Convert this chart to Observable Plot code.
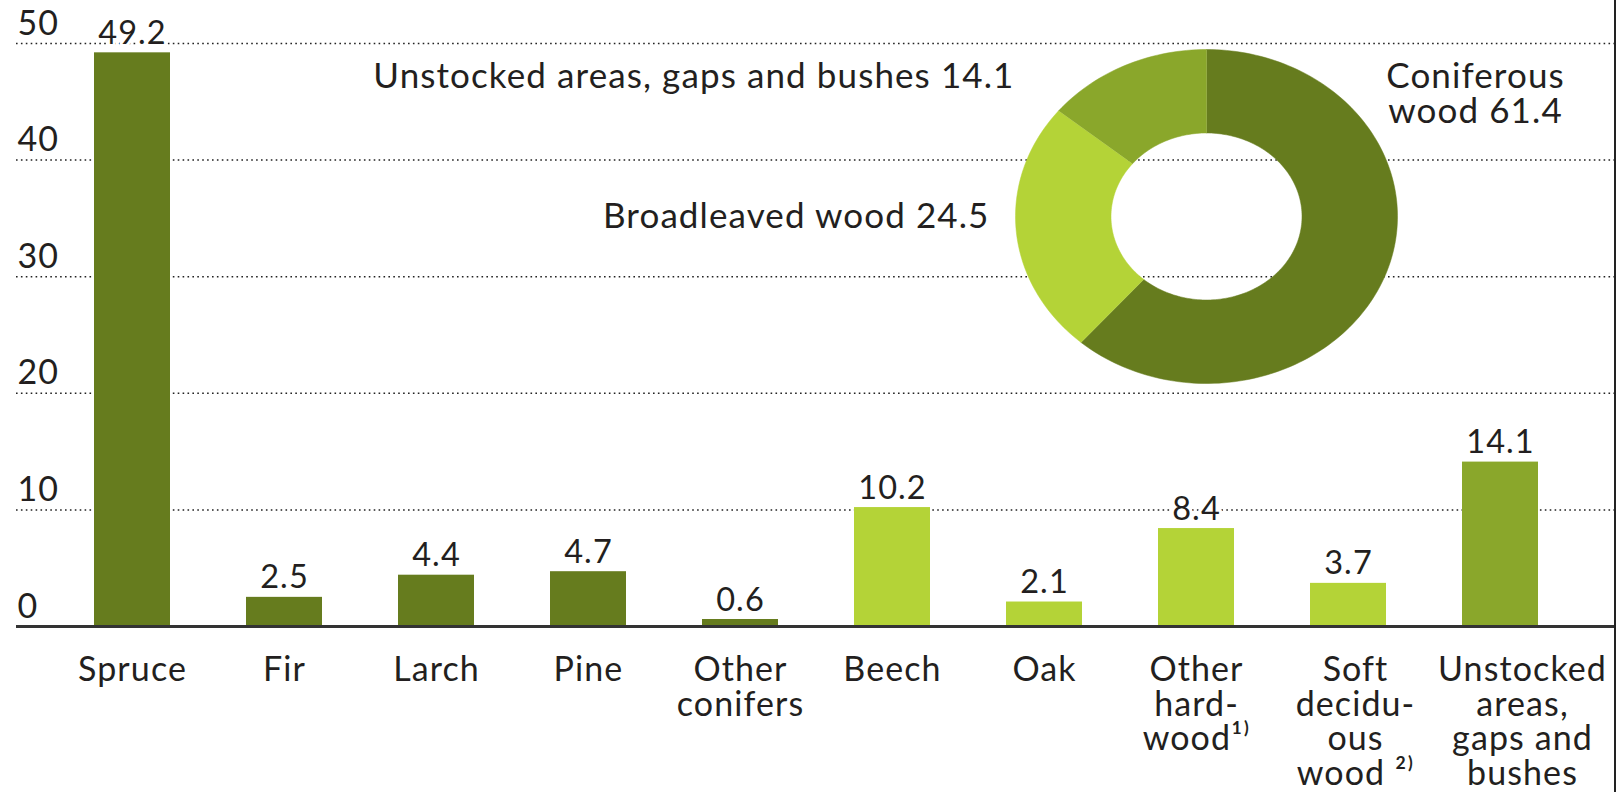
<!DOCTYPE html>
<html>
<head>
<meta charset="utf-8">
<script src="https://cdn.jsdelivr.net/npm/d3@7"></script>
<script src="https://cdn.jsdelivr.net/npm/@observablehq/plot@0.6"></script>
<style>
  html, body { margin: 0; padding: 0; background: #fff; overflow: hidden; }
  #wrap { position: relative; width: 1619px; height: 792px; font-family: Lato, "Open Sans", sans-serif; }
  #wrap svg { position: absolute; left: 0; top: 0; }
  #wrap svg text { letter-spacing: 1.1px; }
  #edge { position: absolute; left: 1614px; top: 0; width: 2px; height: 792px; background: #222; }
</style>
</head>
<body>
<div id="wrap"><div id="edge"></div></div>
<script>
// ---- data ----
const categories = ["Spruce", "Fir", "Larch", "Pine", "Other conifers", "Beech", "Oak", "Other hardwood", "Soft deciduous wood", "Unstocked areas, gaps and bushes"];
const values = [49.2, 2.5, 4.4, 4.7, 0.6, 10.2, 2.1, 8.4, 3.7, 14.1];
const groups = ["Coniferous", "Coniferous", "Coniferous", "Coniferous", "Coniferous", "Broadleaved", "Broadleaved", "Broadleaved", "Broadleaved", "Unstocked"];
const tickLabels = ["Spruce", "Fir", "Larch", "Pine", "Other\nconifers", "Beech", "Oak", "Other\nhard-\nwood\u00B9\u207E", "Soft\ndecidu-\nous\nwood \u00B2\u207E", "Unstocked\nareas,\ngaps and\nbushes"];
const yTicks = [0, 10, 20, 30, 40, 50];

const pieGroups = ["Coniferous", "Broadleaved", "Unstocked"];
const pieValues = [61.4, 24.5, 14.1];
const pieLabels = ["Coniferous\nwood 61.4", "Broadleaved wood 24.5", "Unstocked areas, gaps and bushes 14.1"];

const groupDomain = ["Coniferous", "Broadleaved", "Unstocked"];
const groupColors = ["#667c1e", "#b4d337", "#8aa72b"];

// ---- tables ----
const bars = categories.map((c, i) => ({name: c, value: values[i], group: groups[i]}));
const labelOf = new Map(categories.map((c, i) => [c, tickLabels[i]]));

const W = 1619, H = 792;
const textColor = "#231f20";
const xAxisOpts = {anchor: "bottom", tickSize: 0, tickPadding: 30, fontSize: 34, lineHeight: 1.015, fill: textColor, label: null, tickFormat: d => labelOf.get(d)};

const main = Plot.plot({
  width: W, height: H,
  marginLeft: 16, marginRight: 4, marginTop: 43, marginBottom: 166,
  style: {background: "transparent", fontFamily: "Lato, 'Open Sans', sans-serif", color: textColor, overflow: "visible"},
  x: {domain: categories, paddingInner: 0.5, paddingOuter: 0.496, axis: null, label: null},
  y: {domain: [0, 50], axis: null, label: null},
  color: {domain: groupDomain, range: groupColors},
  marks: [
    Plot.ruleY([10, 20, 30, 40, 50], {stroke: "#222", strokeWidth: 1.5, strokeDasharray: "1.6,3.3"}),
    Plot.barY(bars, {x: "name", y: "value", fill: "group"}),
    Plot.ruleY([0], {stroke: "#333", strokeWidth: 3}),
    Plot.text(bars, {x: "name", y: "value", text: d => d3.format(".1f")(d.value), dy: -9, lineAnchor: "bottom", fontSize: 32.5, fill: textColor, stroke: "white", strokeWidth: 6}),
    Plot.axisY(yTicks, {anchor: "left", tickSize: 0, tickPadding: 0, textAnchor: "start", lineAnchor: "bottom", dx: 1, dy: -9, fontSize: 34, fill: textColor, label: null, tickFormat: d => String(d)}),
    Plot.axisX(categories.slice(0, 8), {...xAxisOpts}),
    Plot.axisX([categories[8]], {...xAxisOpts, dx: 7}),
    Plot.axisX([categories[9]], {...xAxisOpts, dx: 22})
  ]
});

// ---- donut ----
const arcs = d3.pie().sort(null).value(d => d)(pieValues);
const inner = 0.5, steps = 240;
const ring = [];
arcs.forEach((a, i) => {
  const g = pieGroups[i];
  const n = Math.max(8, Math.ceil(steps * (a.endAngle - a.startAngle) / (2 * Math.PI)));
  for (let k = 0; k <= n; ++k) {
    const t = a.startAngle + (a.endAngle - a.startAngle) * k / n;
    ring.push({group: g, x: Math.sin(t), y: Math.cos(t)});
  }
  for (let k = n; k >= 0; --k) {
    const t = a.startAngle + (a.endAngle - a.startAngle) * k / n;
    ring.push({group: g, x: inner * Math.sin(t), y: inner * Math.cos(t)});
  }
});

const donut = Plot.plot({
  width: W, height: H,
  marginLeft: 1015, marginRight: 222, marginTop: 49, marginBottom: 409,
  style: {background: "transparent", fontFamily: "Lato, 'Open Sans', sans-serif", color: textColor, overflow: "visible"},
  x: {domain: [-1, 1], axis: null, label: null},
  y: {domain: [-1, 1], axis: null, label: null},
  color: {domain: groupDomain, range: groupColors},
  marks: [
    Plot.line(ring, {x: "x", y: "y", z: "group", fill: "group", stroke: "group", strokeWidth: 0.5, curve: "linear"}),
    Plot.text([pieLabels[2]], {text: d => d, frameAnchor: "middle", dx: -192, dy: -129, textAnchor: "end", lineAnchor: "bottom", fontSize: 35, fill: textColor}),
    Plot.text([pieLabels[1]], {text: d => d, frameAnchor: "middle", dx: -217, dy: 11, textAnchor: "end", lineAnchor: "bottom", fontSize: 35, fill: textColor}),
    Plot.text([pieLabels[0]], {text: d => d, frameAnchor: "middle", dx: 269, dy: -94, textAnchor: "middle", lineAnchor: "bottom", fontSize: 35, lineHeight: 1.0, fill: textColor})
  ]
});

const wrap = document.getElementById("wrap");
wrap.insertBefore(main, wrap.firstChild);
wrap.insertBefore(donut, document.getElementById("edge"));
</script>
</body>
</html>
